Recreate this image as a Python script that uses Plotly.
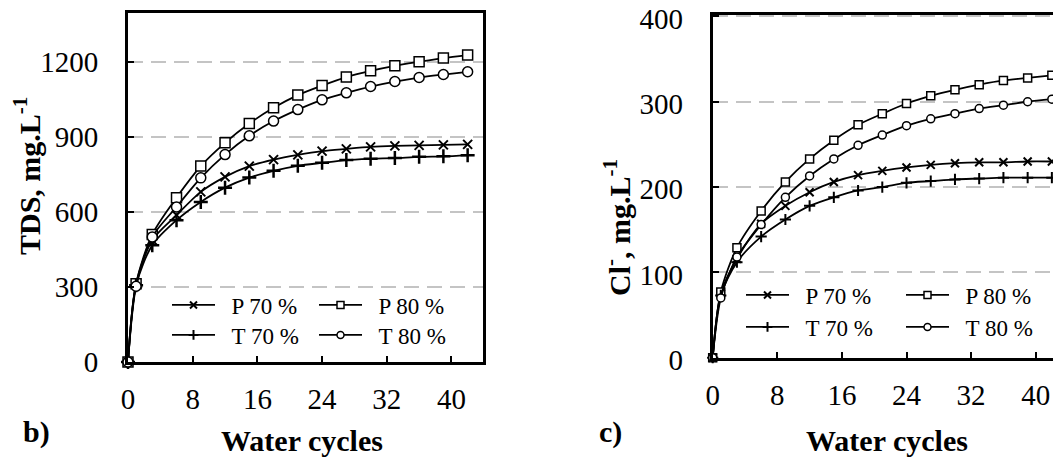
import plotly.graph_objects as go

cycles = [0, 1, 3, 6, 9, 12, 15, 18, 21, 24, 27, 30, 33, 36, 39, 42]

tds_p70 = [0, 313, 487, 587, 680, 740, 783, 809, 828, 843, 852, 860, 864, 866, 868, 870]
tds_p80 = [0, 313, 510, 657, 783, 876, 953, 1016, 1067, 1105, 1139, 1164, 1184, 1200, 1215, 1227]
tds_t70 = [0, 307, 467, 567, 640, 697, 737, 764, 784, 796, 807, 812, 815, 820, 822, 826]
tds_t80 = [0, 303, 500, 620, 736, 829, 904, 963, 1009, 1048, 1076, 1101, 1121, 1137, 1149, 1160]

cl_p70 = [0, 75, 116, 157, 178, 194, 206, 214, 219, 223, 226, 228, 229, 229, 230, 230]
cl_p80 = [0, 77, 129, 172, 206, 233, 255, 273, 286, 298, 307, 314, 320, 325, 328, 331]
cl_t70 = [0, 73, 112, 142, 162, 178, 188, 196, 200, 205, 207, 209, 210, 211, 211, 211]
cl_t80 = [0, 70, 118, 156, 188, 213, 233, 249, 261, 272, 280, 286, 292, 296, 300, 303]

names = ["P 70 %", "P 80 %", "T 70 %", "T 80 %"]
x_ticks = [0, 8, 16, 24, 32, 40]
tds_ticks = [0, 300, 600, 900, 1200]
cl_ticks = [0, 100, 200, 300, 400]

# the page body adds an 8px margin; the figure is sized so it fits the window
OFF = 8
W, H = 1061 - OFF, 459 - OFF
FONT = "Times New Roman, Liberation Serif, DejaVu Serif, serif"


def fx(px):
    return (px - OFF) / W


def fy(py):
    return 1 - (py - OFF) / H


def marker_style(name, big):
    if name.startswith("P 70"):
        return dict(symbol="x-thin", size=9 if big else 8, color="black",
                    line=dict(color="black", width=2))
    if name.startswith("T 70"):
        return dict(symbol="cross-thin", size=10 if big else 8, color="black",
                    line=dict(color="black", width=2.5 if big else 2))
    if name.startswith("P 80"):
        return dict(symbol="square", size=10 if big else 8, color="white",
                    line=dict(color="black", width=1.5))
    return dict(symbol="circle", size=10 if big else 8, color="white",
                line=dict(color="black", width=1.5))


leg_pos_left = {"P 70 %": (175, 305), "P 80 %": (322, 305),
                "T 70 %": (175, 335), "T 80 %": (322, 335)}
leg_pos_right = {"P 70 %": (749, 295), "P 80 %": (909, 295),
                 "T 70 %": (749, 327), "T 80 %": (909, 327)}

fig = go.Figure()

panels = [
    ("x", "y", [tds_p70, tds_p80, tds_t70, tds_t80], True, leg_pos_left, 1),
    ("x2", "y2", [cl_p70, cl_p80, cl_t70, cl_t80], False, leg_pos_right, 5),
]

leg_common = dict(bgcolor="rgba(0,0,0,0)", borderwidth=0, orientation="v",
                  font=dict(family=FONT, size=23, color="black"),
                  xanchor="left", yanchor="middle", itemwidth=43)
legend_layout = {}

for xa, ya, series, big, legpos, lstart in panels:
    for name, vals in zip(names, series):
        fig.add_trace(go.Scatter(
            x=cycles, y=vals, xaxis=xa, yaxis=ya, name=name,
            mode="lines+markers", showlegend=False, cliponaxis=False,
            line=dict(color="black", width=1.8, shape="spline", smoothing=0.8),
            marker=marker_style(name, big),
        ))
    for i, name in enumerate(names):
        n = lstart + i
        lid = "legend" if n == 1 else "legend%d" % n
        m = marker_style(name, False)
        m["size"] = 7
        fig.add_trace(go.Scatter(
            x=[None], y=[None], xaxis=xa, yaxis=ya,
            name="\u00a0\u00a0" + name, legend=lid,
            mode="lines+markers", showlegend=True,
            line=dict(color="black", width=1.8), marker=m,
        ))
        px, py = legpos[name]
        legend_layout[lid] = dict(x=fx(px - 8), y=fy(py), **leg_common)

axis_common = dict(
    showline=True, linecolor="black", linewidth=3,
    ticks="inside", ticklen=6, tickwidth=1.5, tickcolor="black",
    tickfont=dict(family=FONT, size=29, color="black"),
    zeroline=False, automargin=False, ticklabeloverflow="allow",
)

fig.update_layout(
    template="none",
    width=W, height=H,
    margin=dict(l=0, r=0, t=0, b=0, autoexpand=False),
    paper_bgcolor="white", plot_bgcolor="white",
    xaxis=dict(domain=[fx(128), fx(483)], range=[0, 43.9], tickvals=x_ticks, mirror=True,
               showgrid=False, ticklabelstandoff=9, anchor="y", **axis_common),
    yaxis=dict(domain=[fy(362), fy(13)], range=[0, 1395], tickvals=tds_ticks, mirror=True,
               showgrid=True, gridcolor="#c4c4c4", gridwidth=1.5, griddash="15px,8px",
               ticklabelstandoff=21, anchor="x", **axis_common),
    xaxis2=dict(domain=[fx(712.7), 1.0], range=[0, 43.13], tickvals=x_ticks, mirror=True,
                showgrid=False, ticklabelstandoff=9, anchor="y2", **axis_common),
    yaxis2=dict(domain=[fy(357.7), fy(15)], range=[0, 401.7], tickvals=cl_ticks, mirror=False,
                showgrid=True, gridcolor="#c4c4c4", gridwidth=1.5, griddash="15px,8px",
                ticklabelstandoff=21, ticklabelshift=2, anchor="x2", **axis_common),
    **legend_layout,
)

bold = dict(family=FONT, size=30, color="black")
ann = [
    dict(text="<b>TDS, mg.L<sup>-1</sup></b>", x=fx(27), y=fy(176), textangle=-90),
    dict(text="<b>Cl<sup>-</sup>, mg.L<sup>-1</sup></b>", x=fx(617), y=fy(228), textangle=-90),
    dict(text="<b>Water cycles</b>", x=fx(302), y=fy(440)),
    dict(text="<b>Water cycles</b>", x=fx(887), y=fy(440)),
    dict(text="<b>b)</b>", x=fx(36), y=fy(432)),
    dict(text="<b>c)</b>", x=fx(610), y=fy(432)),
]
for a in ann:
    fig.add_annotation(xref="paper", yref="paper", showarrow=False,
                       xanchor="center", yanchor="middle", font=bold, **a)

fig.write_html("out.html")
